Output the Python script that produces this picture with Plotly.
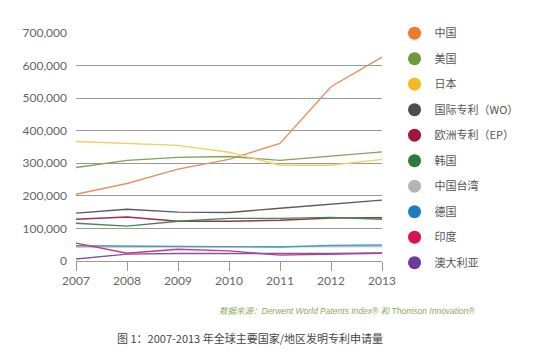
import plotly.graph_objects as go

years = [2007, 2008, 2009, 2010, 2011, 2012, 2013]
names = ["中国", "美国", "日本", "国际专利（WO）", "欧洲专利（EP）", "韩国", "中国台湾", "德国", "印度", "澳大利亚"]
china = [205000, 238000, 282000, 312000, 361000, 535000, 626000]
usa = [287000, 309000, 318000, 321000, 309000, 321000, 335000]
japan = [367000, 362000, 355000, 334000, 294000, 294000, 312000]
wo = [147000, 159000, 150000, 149000, 162000, 174000, 187000]
ep = [128000, 135000, 122000, 122000, 125000, 132000, 133000]
korea = [116000, 107000, 122000, 131000, 131000, 134000, 128000]
taiwan = [43000, 43000, 42000, 42000, 42000, 42000, 44000]
germany = [47000, 46000, 46000, 45000, 43000, 48000, 49000]
india = [55000, 24000, 36000, 31000, 18000, 21000, 24000]
australia = [6000, 21000, 23000, 23000, 21000, 23000, 25000]
series = [china, usa, japan, wo, ep, korea, taiwan, germany, india, australia]
yticks = [0, 100000, 200000, 300000, 400000, 500000, 600000, 700000]

line_colors = ["#E8905E", "#7FA456", "#F2CF66", "#5E585A", "#9E2F4E",
               "#3E8A4E", "#BDBDBD", "#3F97CF", "#D8336A", "#7E55A8"]
legend_colors = ["#F07A2A", "#6E9A38", "#F7B823", "#4F4A4B", "#A0173A",
                 "#2B7A3A", "#B5B5B5", "#1B7EC4", "#D9144C", "#6D3A9E"]

fig = go.Figure()
for n, s, c in zip(names, series, line_colors):
    fig.add_trace(go.Scatter(x=years, y=s, mode="lines", name=n,
                             line=dict(color=c, width=1.4), showlegend=False))
for i, (n, c) in enumerate(zip(names, legend_colors)):
    fig.add_trace(go.Scatter(x=[None], y=[None], mode="markers", name=n,
                             marker=dict(color=c, size=13), legendgroup=f"g{i}"))

fig.update_layout(
    width=554, height=354,
    margin=dict(l=76, r=172, t=33, b=93),
    paper_bgcolor="white", plot_bgcolor="white",
    font=dict(family="Lato, Noto Sans CJK SC, sans-serif", color="#666666", size=12),
    xaxis=dict(range=[2007, 2013], tickvals=years, showgrid=False, zeroline=False,
               showline=False, ticks="outside", ticklen=9, tickcolor="#999999",
               tickwidth=1.2, tickfont=dict(size=12, color="#666666")),
    yaxis=dict(range=[0, 700000], tickvals=yticks, tickformat=",d", showgrid=True,
               gridcolor="#999999", gridwidth=1.3, zeroline=True, zerolinecolor="#999999",
               zerolinewidth=1.3, ticks="", ticklabelstandoff=8,
               tickfont=dict(size=12, color="#666666")),
    legend=dict(x=1.041, y=1.063, xanchor="left", yanchor="top", tracegroupgap=6.5,
                maxheight=330,
                font=dict(size=11, color="#555555", family="Noto Sans CJK SC, sans-serif"),
                itemwidth=30, bgcolor="rgba(0,0,0,0)"),
    annotations=[
        dict(text="<i>数据来源：Derwent World Patents Index® 和 Thomson Innovation®</i>",
             xref="paper", yref="paper", x=(478 - 76) / 306, y=-(311 - 261) / 228,
             xanchor="right", yanchor="middle", showarrow=False,
             font=dict(size=8.5, color="#8AAB5A", family="Liberation Sans, Noto Sans CJK SC")),
        dict(text="图 1：2007-2013 年全球主要国家/地区发明专利申请量",
             xref="paper", yref="paper", x=(250 - 76) / 306, y=-(338 - 261) / 228,
             xanchor="center", yanchor="middle", showarrow=False,
             font=dict(size=11, color="#444444", family="Noto Sans CJK SC, sans-serif")),
    ],
)
fig.write_html("out.html")
